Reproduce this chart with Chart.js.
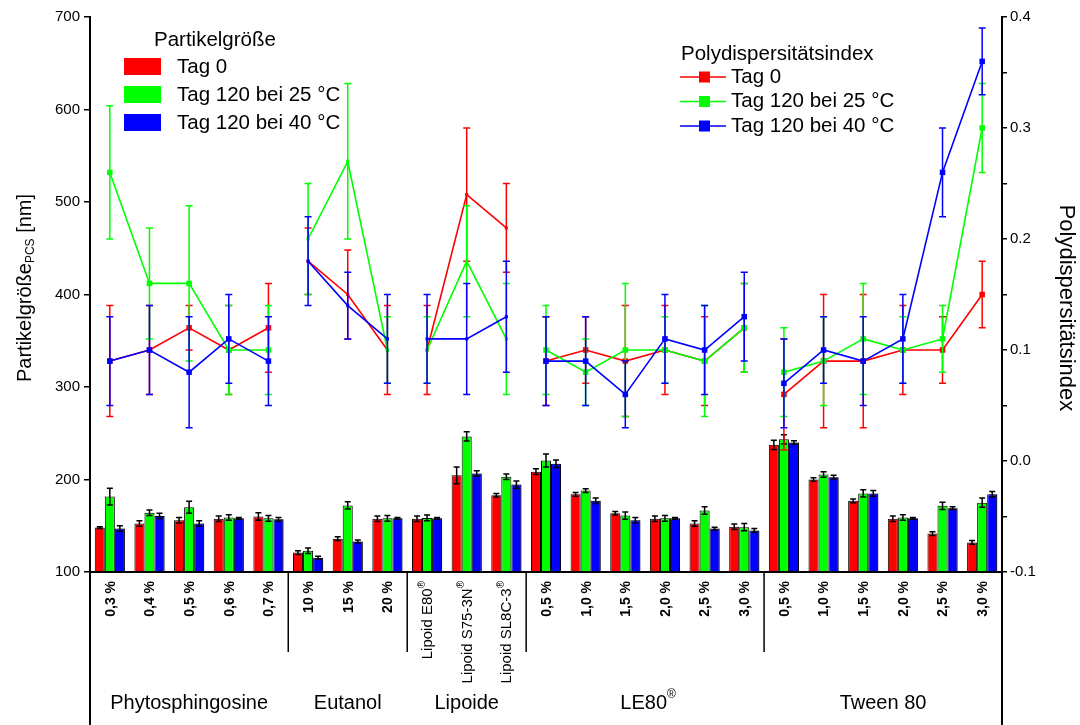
<!DOCTYPE html>
<html><head><meta charset="utf-8">
<script src="https://cdn.jsdelivr.net/npm/chart.js@4.4.1/dist/chart.umd.min.js"></script>
<style>html,body{margin:0;padding:0;background:#fff;}canvas{display:block;}</style>
</head><body>
<canvas id="c" width="1080" height="725"></canvas>
<script>
// ---------- DATA ----------
const categories = ['0,3 %','0,4 %','0,5 %','0,6 %','0,7 %','10 %','15 %','20 %','Lipoid E80','Lipoid S75-3N','Lipoid SL8C-3','0,5 %','1,0 %','1,5 %','2,0 %','2,5 %','3,0 %','0,5 %','1,0 %','1,5 %','2,0 %','2,5 %','3,0 %'];
const registeredCats = ['Lipoid E80','Lipoid S75-3N','Lipoid SL8C-3'];
const groupNames = ['Phytosphingosine','Eutanol','Lipoide','LE80','Tween 80'];
const groupSizes = [5,3,3,6,6];
const registeredGroups = ['LE80'];
const seriesNames = ['Tag 0','Tag 120 bei 25 °C','Tag 120 bei 40 °C'];

// Particle size (nm), left axis
const sizeDay0    = [148,152.5,156,157.5,160, 121,136,157.5, 157.5,204.5,183, 208.5,184,163.5,157.5,152.5,149, 237.5,200,177,157.5,141.5,132];
const sizeDay0Err = [1,3,3,3,4, 2,2,3, 3,9,2, 3,2,2,3,3,3, 5,2,2,3,2,2];
const size25      = [181.5,164,170,159,158, 123,172,158, 158.5,246.5,203, 220.5,188,161,158,166.5,148.5, 243.5,205.5,185,159,171.5,175];
const size25Err   = [9,3,6.5,3,3, 3,4,3, 3,5,3, 7,2,4,3,4,4, 5,3,4,3,4,5];
const size40      = [147,160.5,152.5,158,157, 115.5,133,158, 158,206.5,194.5, 217,177,156,158,147,145, 240,202.5,185,158,169,184];
const size40Err   = [3,3,3,1,2, 1.5,1.5,1, 1,3,4, 4,3,3,1,1.5,2, 2,2,3,1,1.5,3];

// Polydispersity index, right axis
const pdiDay0    = [0.09,0.10,0.12,0.10,0.12, 0.18,0.15,0.10, 0.10,0.24,0.21, 0.09,0.10,0.09,0.10,0.09,0.12, 0.06,0.09,0.09,0.10,0.10,0.15];
const pdiDay0Err = [0.05,0.04,0.02,0.04,0.04, 0.03,0.04,0.04, 0.04,0.06,0.04, 0.04,0.03,0.05,0.04,0.04,0.04, 0.05,0.06,0.06,0.04,0.03,0.03];
const pdi25      = [0.26,0.16,0.16,0.10,0.10, 0.20,0.27,0.10, 0.10,0.18,0.11, 0.10,0.08,0.10,0.10,0.09,0.12, 0.08,0.09,0.11,0.10,0.11,0.30];
const pdi25Err   = [0.06,0.05,0.07,0.04,0.04, 0.05,0.07,0.03, 0.03,0.05,0.05, 0.04,0.03,0.06,0.03,0.05,0.04, 0.04,0.04,0.05,0.03,0.03,0.04];
const pdi40      = [0.09,0.10,0.08,0.11,0.09, 0.18,0.14,0.11, 0.11,0.11,0.13, 0.09,0.09,0.06,0.11,0.10,0.13, 0.07,0.10,0.09,0.11,0.26,0.36];
const pdi40Err   = [0.04,0.04,0.05,0.04,0.04, 0.04,0.03,0.04, 0.04,0.05,0.05, 0.04,0.04,0.03,0.04,0.04,0.04, 0.04,0.03,0.04,0.04,0.04,0.03];

const leftTicks = {min:100, max:700, step:100};
const rightTicks = {min:-0.1, max:0.4, step:0.05};

// ---------- STYLE ----------
const FF = '"Liberation Sans", Arial, Helvetica, sans-serif';
const COLORS = ['#ff0000','#00ff00','#0000ff'];
const groupStart = []; { let s=0; groupSizes.forEach(n=>{groupStart.push(s); s+=n;}); }
const breaks = groupStart.slice(1).map(s=>s-1);
const smallMarkerGroups = [1,2];
function groupOf(i){ let g=0; for(let k=0;k<groupStart.length;k++){ if(i>=groupStart[k]) g=k; } return g; }

const errors = [sizeDay0Err,size25Err,size40Err,pdiDay0Err,pdi25Err,pdi40Err];

const errPlugin = {
  id:'errbars',
  beforeDatasetDraw(chart,args){
    const ds = chart.data.datasets[args.index];
    if(ds.type==='bar'){
      const c=chart.ctx; c.save();
      if(args.index===2){ c.shadowColor='rgba(0,0,0,0.4)'; c.shadowOffsetX=2; c.shadowOffsetY=0; c.shadowBlur=0; }
    }
  },
  afterDatasetDraw(chart,args){
    const ds = chart.data.datasets[args.index];
    const c = chart.ctx;
    if(ds.type==='bar') c.restore();
    const err = errors[args.index];
    const ys = chart.scales[ds.yAxisID];
    const meta = args.meta;
    c.save();
    c.strokeStyle = ds.type==='bar' ? '#000' : ds.borderColor;
    c.lineWidth = 1.5;
    const cap = ds.type==='bar' ? 3 : 3.5;
    ds.data.forEach((v,i)=>{
      const e = err[i]; if(e==null) return;
      const x = meta.data[i].x;
      const y1 = ys.getPixelForValue(v+e), y2 = ys.getPixelForValue(v-e);
      c.beginPath();
      c.moveTo(x,y1); c.lineTo(x,y2);
      c.moveTo(x-cap,y1); c.lineTo(x+cap,y1);
      c.moveTo(x-cap,y2); c.lineTo(x+cap,y2);
      c.stroke();
    });
    c.restore();
  }
};

function drawWithSup(c, parts, x, y, align){
  let total=0; parts.forEach(p=>{c.font=p.font; p.w=c.measureText(p.t).width; total+=p.w;});
  let sx = align==='center' ? x-total/2 : (align==='right' ? x-total : x);
  c.textAlign='left';
  parts.forEach(p=>{c.font=p.font; c.fillText(p.t, sx, y+(p.dy||0)); sx+=p.w;});
}

const decoPlugin = {
  id:'deco',
  afterDraw(chart){
    const c=chart.ctx, a=chart.chartArea, xs=chart.scales.x;
    c.save();
    c.strokeStyle='#000'; c.fillStyle='#000';
    c.lineWidth=2;
    c.beginPath();
    c.moveTo(a.left,a.top-1); c.lineTo(a.left,chart.height);
    c.moveTo(a.right,a.top-1); c.lineTo(a.right,chart.height);
    c.moveTo(a.left,a.bottom); c.lineTo(a.right,a.bottom);
    c.stroke();
    c.lineWidth=1.5;
    groupStart.slice(1).forEach(s=>{
      const x=(xs.getPixelForValue(s-1)+xs.getPixelForValue(s))/2;
      c.beginPath(); c.moveTo(x,a.bottom); c.lineTo(x,a.bottom+80); c.stroke();
    });
    categories.forEach((lab,i)=>{
      const x=xs.getPixelForValue(i);
      c.save(); c.translate(x+1,a.bottom+9); c.rotate(-Math.PI/2);
      c.textBaseline='middle';
      if(registeredCats.includes(lab)){
        drawWithSup(c,[{t:lab,font:'15px '+FF},{t:'®',font:'10px '+FF,dy:-6}],0,0,'right');
      } else {
        c.font='bold 14px '+FF; c.textAlign='right'; c.fillText(lab,0,0);
      }
      c.restore();
    });
    c.textBaseline='middle';
    groupNames.forEach((g,k)=>{
      const s=groupStart[k], e=s+groupSizes[k]-1;
      const x=(xs.getPixelForValue(s)+xs.getPixelForValue(e))/2;
      if(registeredGroups.includes(g)){
        drawWithSup(c,[{t:g,font:'20px '+FF},{t:'®',font:'12px '+FF,dy:-8}],x+3,703,'center');
      } else {
        c.font='20px '+FF; c.textAlign='center'; c.fillText(g,x,703);
      }
    });
    c.save(); c.translate(25,288); c.rotate(-Math.PI/2); c.textBaseline='middle';
    drawWithSup(c,[{t:'Partikelgröße',font:'20px '+FF},{t:'PCS',font:'12px '+FF,dy:6},{t:' [nm]',font:'20px '+FF}],0,0,'center');
    c.restore();
    c.save(); c.translate(1066,308); c.rotate(Math.PI/2); c.textBaseline='middle';
    c.font='22px '+FF; c.textAlign='center'; c.fillText('Polydispersitätsindex',0,0);
    c.restore();
    c.textAlign='left'; c.textBaseline='middle'; c.font='20.5px '+FF;
    c.fillText('Partikelgröße',154,40);
    seriesNames.forEach((n,k)=>{
      c.fillStyle=COLORS[k]; c.fillRect(124,58+k*28,37,17);
      c.fillStyle='#000'; c.fillText(n,177,67+k*28);
    });
    c.fillText('Polydispersitätsindex',681,54);
    seriesNames.forEach((n,k)=>{
      const y=77+k*24.5;
      c.strokeStyle=COLORS[k]; c.lineWidth=1.5;
      c.beginPath(); c.moveTo(680,y); c.lineTo(726,y); c.stroke();
      c.fillStyle=COLORS[k]; c.fillRect(699,y-5.5,11,11);
      c.fillStyle='#000'; c.fillText(n,731,y);
    });
    c.restore();
  }
};

function barDs(label,data,k){
  return {type:'bar',label,data,yAxisID:'y',backgroundColor:COLORS[k],borderColor:'#000',borderWidth:1,borderSkipped:false,
    categoryPercentage:0.76,barPercentage:1.0,order:4+k};
}
function lineDs(label,data,k){
  return {type:'line',label,data,yAxisID:'y2',borderColor:COLORS[k],backgroundColor:COLORS[k],borderWidth:1.6,
    pointStyle:'rect',pointBorderWidth:0,pointBorderColor:COLORS[k],
    pointRadius:ctx=>smallMarkerGroups.includes(groupOf(ctx.dataIndex))?2.2:3.9,
    tension:0,order:3-k,
    segment:{borderColor:ctx=>breaks.includes(ctx.p0DataIndex)?'rgba(0,0,0,0)':COLORS[k]}};
}

new Chart(document.getElementById('c'),{
  data:{
    labels:categories,
    datasets:[
      barDs(seriesNames[0],sizeDay0,0),
      barDs(seriesNames[1],size25,1),
      barDs(seriesNames[2],size40,2),
      lineDs(seriesNames[0],pdiDay0,0),
      lineDs(seriesNames[1],pdi25,1),
      lineDs(seriesNames[2],pdi40,2)
    ]
  },
  options:{
    responsive:false, animation:false,
    layout:{padding:{top:17,left:0,right:0,bottom:0}},
    plugins:{legend:{display:false},tooltip:{enabled:false}},
    scales:{
      x:{type:'category',offset:true,ticks:{display:false},grid:{display:false},border:{display:false},
        afterFit(s){s.height=153;}},
      y:{position:'left',min:leftTicks.min,max:leftTicks.max,
        ticks:{stepSize:leftTicks.step,color:'#000',font:{family:FF,size:15},padding:4},
        grid:{display:true,drawOnChartArea:false,drawTicks:true,tickLength:6,color:'#000',lineWidth:1.5},
        border:{display:false},afterFit(s){s.width=90;}},
      y2:{position:'right',min:rightTicks.min,max:rightTicks.max,
        ticks:{stepSize:rightTicks.step,color:'#000',font:{family:FF,size:15},padding:3,autoSkip:false,
          callback:v=>{const k=Math.round(v*20);return k%2===0?(k/20).toFixed(1):'';}},
        grid:{display:true,drawOnChartArea:false,drawTicks:true,tickLength:5,color:'#000',lineWidth:1.5},
        border:{display:false},afterFit(s){s.width=78;}}
    }
  },
  plugins:[errPlugin,decoPlugin]
});
</script>
</body></html>
